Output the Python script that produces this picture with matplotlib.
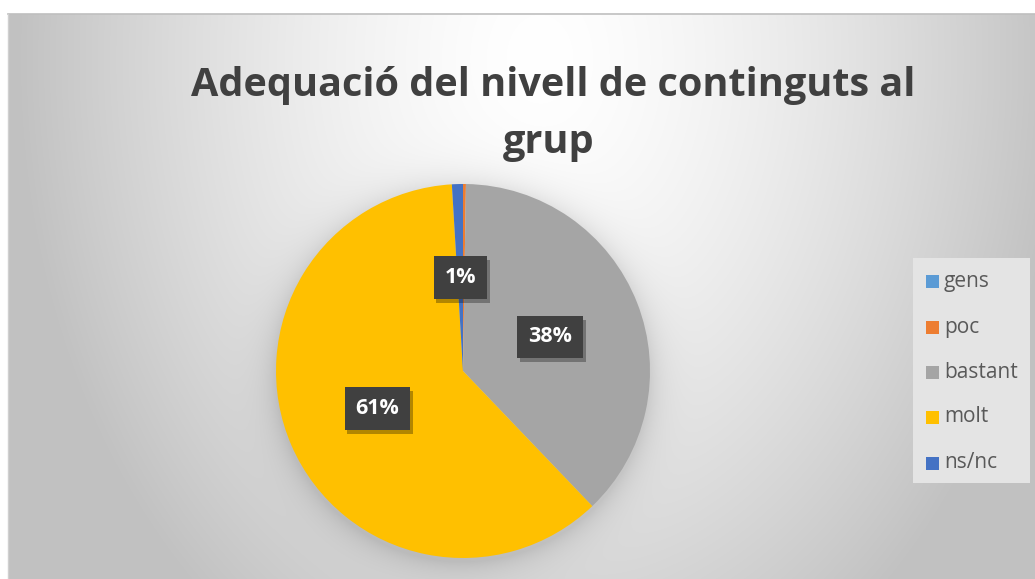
import numpy as np
import matplotlib
matplotlib.use("Agg")
import matplotlib.pyplot as plt
from matplotlib.patches import Rectangle
import matplotlib.patheffects as pe

# ---- data ----
categories = ["gens", "poc", "bastant", "molt", "ns/nc"]
values = [0.0, 0.25, 37.6, 61.2, 0.95]
labels_shown = ["", "", "38%", "61%", "1%"]
colors = ["#5B9BD5", "#ED7D31", "#A5A5A5", "#FFC000", "#4472C4"]
title_lines = ["Adequació del nivell de continguts al", "grup"]

W, H = 1035, 579
fig = plt.figure(figsize=(W / 100, H / 100), dpi=100)
fig.patch.set_facecolor("white")

# ---- background gradient (chart area) ----
x0, y0 = 8, 14
cx, cy, R = 463, 371, 187
xs = np.arange(x0, W) + 0.5
ys = np.arange(y0, H) + 0.5
X, Y = np.meshgrid(xs, ys)
d = np.sqrt(((X - 540) / 520) ** 2 + ((Y - 60) / 700) ** 2)
d = np.clip(d, 0, 1)
val = 1 - 0.24 * d ** 1.5
rr = np.sqrt((X - cx) ** 2 + (Y - cy - 4) ** 2)
val -= 0.11 * np.exp(-np.clip(rr - R, 0, None) / 15.0)
val = np.clip(val, 0, 1)
bg = fig.add_axes([x0 / W, 0, (W - x0) / W, (H - y0) / H])
bg.imshow(np.dstack([val, val, val]), aspect="auto", interpolation="bilinear")
bg.set_axis_off()
fig.add_artist(plt.Line2D([x0 / W, 1], [1 - y0 / H, 1 - y0 / H], color="#bfbfbf", lw=1.2))
fig.add_artist(plt.Line2D([x0 / W, x0 / W], [0, 1 - y0 / H], color="#d0d0d0", lw=1.0))

# ---- pie ----
ax = fig.add_axes([(cx - R) / W, (H - cy - R) / H, 2 * R / W, 2 * R / H])
wedges, _ = ax.pie(values, colors=colors, startangle=90, counterclock=False,
                   radius=1.0, wedgeprops=dict(linewidth=0))
ax.set_xlim(-1, 1)
ax.set_ylim(-1, 1)
ax.set_aspect("equal")
ax.set_axis_off()

cum = np.cumsum([0] + values[:-1])
tot = sum(values)
for v, c0, lab in zip(values, cum, labels_shown):
    if not lab:
        continue
    mid = (c0 + v / 2) / tot
    ang = np.deg2rad(90 - 360 * mid)
    r = 0.5
    lx, ly = r * np.cos(ang), r * np.sin(ang)
    t = ax.text(lx, ly, lab, ha="center", va="center", fontsize=15.5,
                fontweight="bold", family="Open Sans", color="white",
                bbox=dict(boxstyle="square,pad=0.5", fc="#404040", ec="none"))
    t.get_bbox_patch().set_path_effects(
        [pe.SimplePatchShadow(offset=(2, -3), shadow_rgbFace="black", alpha=0.3), pe.Normal()])

# ---- title ----
fig.text(553 / W, 1 - 96 / H, title_lines[0], ha="center", va="baseline", fontsize=28.5,
         fontweight="bold", family="Open Sans", color="#404040")
fig.text(549 / W, 1 - 153 / H, title_lines[1], ha="center", va="baseline", fontsize=28.5,
         fontweight="bold", family="Open Sans", color="#404040")

# ---- legend ----
lx0, ly0, lx1, ly1 = 913, 258, 1030, 483
fig.add_artist(Rectangle((lx0 / W, 1 - ly1 / H), (lx1 - lx0) / W, (ly1 - ly0) / H,
                         transform=fig.transFigure, fc="#e4e4e4", ec="none"))
row_y = [281, 327, 372, 417, 463]
for cat, col, yy in zip(categories, colors, row_y):
    s = 13
    fig.add_artist(Rectangle((926 / W, 1 - (yy + s / 2) / H), s / W, s / H,
                             transform=fig.transFigure, fc=col, ec="none"))
    fig.text(944 / W, 1 - yy / H, cat, ha="left", va="center", fontsize=15,
             family="Open Sans", color="#595959")

fig.savefig("out.png", dpi=100)
